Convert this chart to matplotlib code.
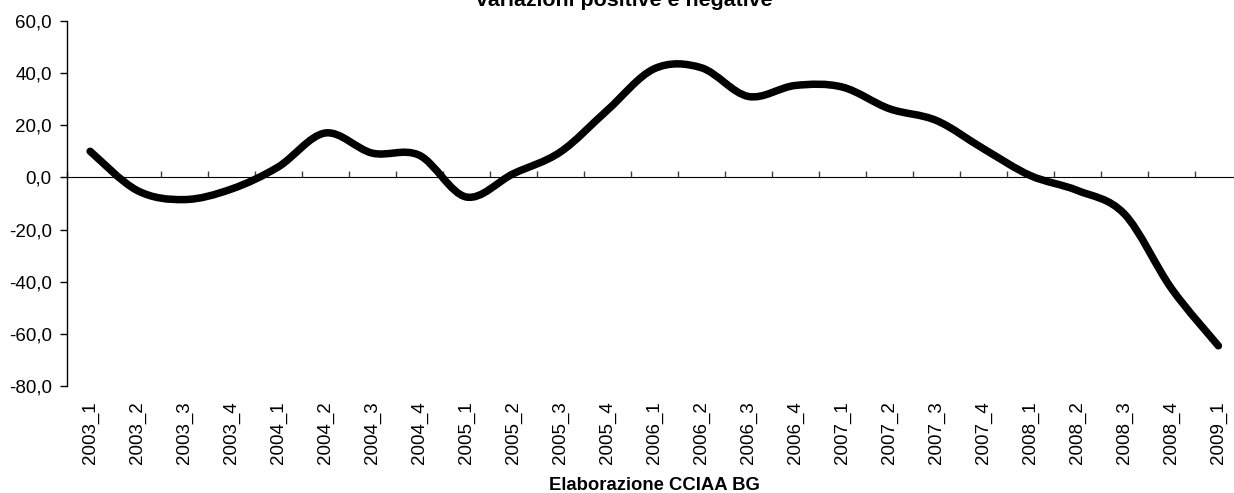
import numpy as np
import matplotlib
matplotlib.use("Agg")
import matplotlib.pyplot as plt
from matplotlib.path import Path
from matplotlib.patches import PathPatch
from matplotlib.ticker import FuncFormatter

plt.rcParams['font.family'] = ['Liberation Sans', 'DejaVu Sans']

quarters = ['2003_1', '2003_2', '2003_3', '2003_4', '2004_1', '2004_2', '2004_3', '2004_4',
            '2005_1', '2005_2', '2005_3', '2005_4', '2006_1', '2006_2', '2006_3', '2006_4',
            '2007_1', '2007_2', '2007_3', '2007_4', '2008_1', '2008_2', '2008_3', '2008_4',
            '2009_1']
values = [10.0, -5.0, -8.5, -4.5, 4.0, 17.0, 9.3, 8.5,
          -7.5, 1.4, 9.7, 25.7, 41.6, 42.0, 31.0, 35.2,
          34.6, 26.3, 21.8, 11.0, 0.7, -5.0, -14.0, -42.5,
          -64.5]
yticks = [-80, -60, -40, -20, 0, 20, 40, 60]

fig = plt.figure(figsize=(12.34, 4.93), dpi=100)
ax = fig.add_axes([0.054, 0.2164, 0.9524, 0.7416])

# smoothed line (like excel), bezier through the points
x = np.arange(len(values), dtype=float)
y = np.array(values)
px = np.concatenate([[x[0]], x, [x[-1]]])
py = np.concatenate([[y[0]], y, [y[-1]]])
verts = [(x[0], y[0])]
codes = [Path.MOVETO]
for i in range(len(x) - 1):
    c1 = (px[i+1] + (px[i+2] - px[i]) / 6, py[i+1] + (py[i+2] - py[i]) / 6)
    c2 = (px[i+2] - (px[i+3] - px[i+1]) / 6, py[i+2] - (py[i+3] - py[i+1]) / 6)
    verts += [c1, c2, (x[i+1], y[i+1])]
    codes += [Path.CURVE4] * 3
ax.add_patch(PathPatch(Path(verts, codes), fill=False, lw=5.4, ec='black',
                       capstyle='round', joinstyle='round', zorder=3))

ax.set_xlim(-0.5, len(values) - 0.5)
ax.set_ylim(-80, 60)
ax.set_yticks(yticks)
ax.yaxis.set_major_formatter(FuncFormatter(lambda v, p: f"{v:.1f}".replace('.', ',')))
ax.tick_params(axis='y', direction='out', length=4.8, width=1, pad=6, labelsize=13.5)
ax.set_xticks(x)
ax.set_xticklabels(quarters, rotation=90, fontsize=13.5)
ax.tick_params(axis='x', length=0, pad=11)

for s in ['top', 'right', 'bottom']:
    ax.spines[s].set_visible(False)
ax.spines['left'].set_linewidth(1)

# zero line with tick marks between categories
sec = ax.secondary_xaxis(80 / 140)
sec.set_xticks(np.arange(len(values) + 1) - 0.5)
sec.set_xticklabels([])
sec.tick_params(direction='out', length=4.5, width=1, color='#404040')
sec.spines['bottom'].set_color('#707070')
sec.spines['bottom'].set_linewidth(1.2)

fig.text(624 / 1234, 1 - 6.5 / 493, 'variazioni positive e negative', ha='center',
         va='baseline', fontsize=15.4, fontweight='bold')
fig.text(654 / 1234, 1 - 489.5 / 493, 'Elaborazione CCIAA BG', ha='center',
         va='baseline', fontsize=13.3, fontweight='bold')

fig.savefig('out.png', dpi=100)
